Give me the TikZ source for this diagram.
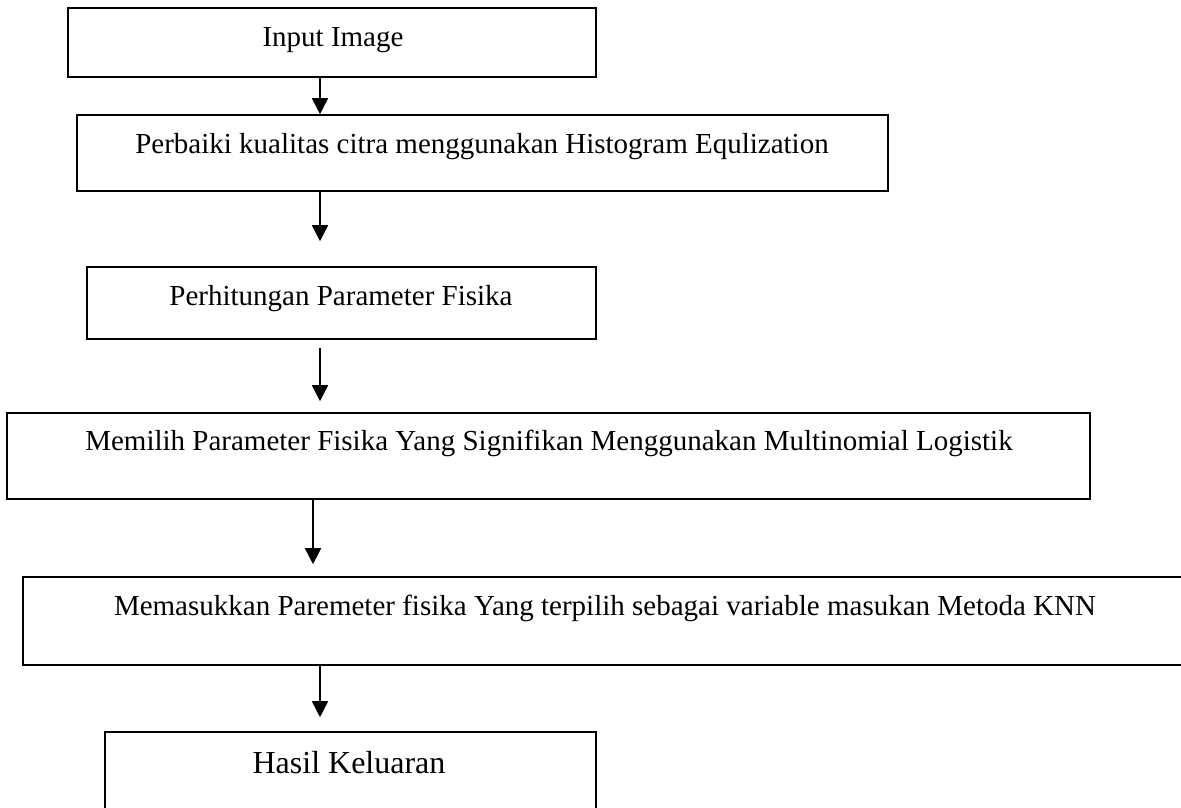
\documentclass[tikz,border=0pt]{standalone}
\usepackage{fontspec}
\setmainfont{Liberation Serif}
\usetikzlibrary{arrows.meta}
\begin{document}
\begin{tikzpicture}[x=1pt,y=-1pt,
  box/.style={draw=black, line width=1.6pt, rectangle, inner sep=0pt},
  txt/.style={inner sep=0pt, anchor=base, font=\fontsize{29}{35}\selectfont},
  bigtxt/.style={inner sep=0pt, anchor=base, font=\fontsize{32}{38}\selectfont},
  arr/.style={draw=black, line width=1.6pt, -{Triangle[width=16pt,length=16pt]}}]
\clip (0,0) rectangle (1181,807);
\fill[white] (0,0) rectangle (1181,807);
% boxes
\node[box, minimum width=528pt, minimum height=69pt] (b1) at (332,42.5) {};
\node[box, minimum width=811pt, minimum height=76pt] (b2) at (482.5,153) {};
\node[box, minimum width=509pt, minimum height=72pt] (b3) at (341.5,303) {};
\node[box, minimum width=1083pt, minimum height=86pt] (b4) at (548.5,456) {};
\node[box, minimum width=1180pt, minimum height=88pt] (b5) at (613,621) {};
\node[box, minimum width=491pt, minimum height=110pt] (b6) at (350.5,787) {};
% texts
\node[txt] (t1) at (333,46) {Input Image};
\node[txt] (t2) at (482,153) {Perbaiki kualitas citra menggunakan Histogram Equlization};
\node[txt] (t3) at (341,305) {Perhitungan Parameter Fisika};
\node[txt] (t4) at (549,450) {Memilih Parameter Fisika Yang Signifikan Menggunakan Multinomial Logistik};
\node[txt] (t5) at (605,615) {Memasukkan Paremeter fisika Yang terpilih sebagai variable masukan Metoda KNN};
\node[bigtxt] (t6) at (349,773) {Hasil Keluaran};
% connectors
\coordinate (ax) at (320,0);
\coordinate (bx) at (313,0);
\draw[arr] (b1.south -| ax) -- (b2.north -| ax);
\draw[arr, shorten >=25pt] (b2.south -| ax) -- (b3.north -| ax);
\draw[arr, shorten <=8pt, shorten >=11pt] (b3.south -| ax) -- (b4.north -| ax);
\draw[arr, shorten >=12pt] (b4.south -| bx) -- (b5.north -| bx);
\draw[arr, shorten >=14pt] (b5.south -| ax) -- (b6.north -| ax);
\end{tikzpicture}
\end{document}
